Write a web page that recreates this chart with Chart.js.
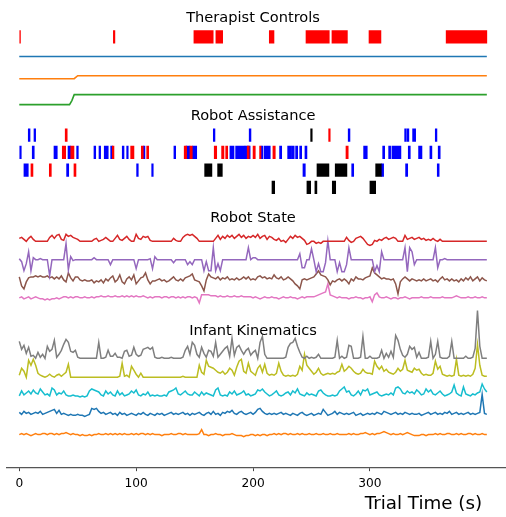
<!DOCTYPE html>
<html>
<head>
<meta charset="utf-8">
<title>Trial overview</title>
<script src="https://cdn.jsdelivr.net/npm/chart.js@4.4.1/dist/chart.umd.min.js"></script>
<style>
  html, body { margin: 0; padding: 0; background: #fff; }
  #wrap { width: 506px; height: 517px; }
</style>
</head>
<body>
<div id="wrap"><canvas id="trialChart" width="506" height="517"></canvas></div>
<script>
// ---------------- data ----------------
const xTicks = [0, 100, 200, 300];
const sectionTitles = ["Therapist Controls", "Robot Assistance", "Robot State", "Infant Kinematics"];
const axisTitle = "Trial Time (s)";

// therapist control on/off spans, seconds
const therapistEvents = [[0, 1], [80.5, 81.8], [149.4, 165.9], [168.2, 174], [213.9, 217.9],
  [245.3, 265.2], [267.5, 280.7], [299.2, 309.4], [365.2, 400]];

// therapist settings (step lines)
const therapistTimes = [0, 43, 45, 47, 50, 400];
const therapistBlue = [0, 0, 0, 0, 0, 0];
const therapistOrange = [0, 0, 0, 0, 3, 3];
const therapistGreen = [0, 0, 4, 10, 10, 10];

// robot assistance spans, one list per row and colour
const assist1Blue = [[7.7, 9.2], [12.6, 14], [166, 167.4], [196.7, 198.2], [281.4, 282.9],
  [329.7, 331], [331.6, 333.3], [336.5, 339.1], [355.9, 357.3]];
const assist1Red = [[39.3, 41], [264.7, 266]];
const assist1Black = [[249.3, 250.6]];

const assist2Blue = [[0, 1.7], [11.1, 12.8], [29.7, 32.5], [41.7, 44], [49.1, 50.5], [63.9, 65.4],
  [68.2, 69.6], [72.7, 76.1], [78.2, 79.9], [88.1, 89.6], [91.9, 93.2], [106.1, 107.5],
  [132.3, 133.8], [142.6, 146], [148, 151.8], [180.2, 183.7], [185.1, 193.1], [193.1, 197.5],
  [206.8, 208.5], [209.6, 214.7], [222.7, 224.5], [229.6, 233], [233.5, 235.2], [236.4, 238.2],
  [239.9, 241.6], [244.4, 246.1], [294.6, 297.7], [310.9, 312.6], [316, 317.7], [318.8, 326.5],
  [332.8, 334.5], [341.6, 344.5], [351.3, 353], [358.4, 360.1]];
const assist2Red = [[36.8, 39.7], [44, 46.8], [79.6, 81], [95.3, 98.1], [104.4, 106.1], [109, 110.7],
  [141.1, 143.2], [146, 148], [166.8, 168.9], [173.1, 175.1], [176.6, 178.3], [195, 196.7],
  [200, 201.9], [205.6, 206.8], [217, 219], [279.5, 281.4]];

const assist3Blue = [[4, 7.7], [40.5, 42.3], [100.4, 101.8], [113.3, 114.6], [242.7, 244.7],
  [284.4, 286.1], [309.7, 311.7], [330.5, 332.3], [357.6, 359.2]];
const assist3Red = [[10, 11.7], [25.7, 27.4], [46.8, 48.5]];
const assist3Black = [[158.6, 164.8], [169.7, 173.7], [254.7, 264.9], [270.3, 280.3], [304.9, 309.7]];

const assist4Black = [[216.2, 218.5], [246.1, 249.3], [252.9, 254.6], [267.8, 270.7], [300, 304.9]];

// sampled signals, one value every 2 s (0..400 s)
const sampleTimes = Array.from({ length: 201 }, (_, i) => i * 2);

const stateRed = [
  3, 4, 2, 0, 3, 5, 2, 0, 0, 0,
  0, 0, 0, 4, 6, 3, 6, 7, 2, 1,
  7, 5, 6, 4, 3, 2, 0, 0, 0, 0,
  0, 0, 2, 3, 0, 1, 2, 4, 2, 0,
  0, 3, 6, 2, 1, 3, 5, 2, 0, 0,
  7, 3, 2, 5, 4, 5, 1, 0, 0, 0,
  0, 0, 0, 0, 0, 0, 3, 1, 0, 0,
  4, 6, 7, 6, 7, 5, 3, 0, 0, 0,
  0, 0, 0, 0, 3, 6, 2, 5, 3, 6,
  4, 6, 3, 5, 7, 4, 6, 3, 5, 4,
  6, 4, 7, 3, 5, 6, 2, 5, 4, 2,
  1, 3, 0, 1, -1, 2, 5, 3, 6, 4,
  5, 3, 1, -3, -2, 0, 0, -2, -1, -2,
  0, 0, 0, 0, 0, 0, 0, 0, 0, 0,
  4, 1, -1, 0, 3, 4, 5, 3, 0, -3,
  -4, -3, 1, 0, 2, 1, 3, 4, 2, 3,
  4, 3, 0, 0, 0, 6, 2, 3, 4, 2,
  3, 4, 2, 3, 1, 2, 1, 3, 1, 0,
  2, 0, 0, 0, 0, 0, 0, 0, 0, 0,
  0, 0, 0, 0, 0, 0, 0, 0, 0, 0,
  0];
const statePurple = [
  1, -2, -11, -4, 8, -11, 2, 0, 0, 1,
  0, 0, 0, -16, 0, 0, 0, 0, 0, 0,
  16, -10, 3, -1, 0, 0, 0, 0, 0, 0,
  0, 0, 2, 0, 0, 0, 0, 0, 0, -5,
  0, 0, 0, 0, 0, 0, 0, 0, 0, 0,
  -9, 0, 0, 0, 0, 0, 1, -9, 3, 0,
  0, 0, 0, 0, 0, 0, -3, 0, 0, 0,
  0, 0, -5, -2, -5, 0, 0, 0, 0, -11,
  -2, -11, -11, 12, -11, -4, -11, 0, 0, 0,
  0, 0, 0, 0, 0, 0, 0, 0, 12, 0,
  2, 2, 0, 0, 0, 0, 0, 0, 0, 0,
  0, 0, 0, 0, 0, 0, 0, 0, 0, 0,
  6, -8, -8, 0, 0, 11, 0, -12, -4, -12,
  -12, -3, 19, 0, 0, 0, -12, -3, -12, -12,
  -5, 12, 0, 0, 0, 0, 0, 0, 0, 0,
  0, 0, -12, -6, -12, 8, 0, 0, 0, 0,
  0, 0, 0, 0, 0, 12, -12, 12, 8, -5,
  0, 0, 0, 0, 0, 0, 0, 0, 12, -8,
  0, 0, 1, 0, 0, 0, 0, 0, 0, 0,
  0, 0, 0, 0, 0, 0, 0, 0, 0, 0,
  0];
const stateBrown = [
  2, -7, -10, -3, 1, 2, 2, 3, 2, 3,
  2, 2, 3, 1, 2, 0, 2, 0, 3, -1,
  -3, 6, 1, -2, 2, 2, -1, -2, -1, -2,
  -2, -1, -4, -2, -3, -1, -4, 0, -2, 1,
  3, -3, -1, 4, -3, -5, 0, 2, -1, 4,
  -5, -2, 1, 2, 6, -1, -5, -2, -2, -1,
  0, -2, -1, -3, -2, 0, 2, -1, -2, 0,
  -2, 1, 2, 3, 5, -1, -2, -3, -7, -12,
  -1, 5, 2, 1, 0, 2, -1, 1, 0, 2,
  -1, 0, -1, 1, -1, 0, 2, 0, 2, -1,
  0, -1, 2, 3, 1, 2, 0, 1, 0, 4,
  1, 0, 2, -1, 0, 2, 0, -2, -5, -7,
  -10, -1, 0, -1, 0, 1, 2, 5, 8, 4,
  3, 2, -1, -6, -2, -3, -1, 0, -2, 0,
  -2, -5, 0, -2, 2, 0, 0, -1, 1, 2,
  3, 11, 6, 4, 2, 0, 1, 0, 0, -1,
  0, -5, -15, -3, 0, 2, 0, -2, 0, -1,
  -2, -1, -2, 0, -2, -1, 0, -2, -1, -3,
  0, 2, -1, 0, -2, 0, -2, -1, -3, 0,
  -2, 1, -1, 2, -2, 0, 2, -2, 1, -1,
  -2];
const statePink = [
  0, 1, -1, 0, 1, -1, 0, 1, 0, -1,
  -1, -2, -1, -2, -1, -1, 0, -1, 0, 1,
  1, 0, 1, 0, 1, 1, 0, 0, 1, 0,
  0, 1, 0, 1, 1, 2, 1, 1, 2, 1,
  1, 2, 1, 1, 2, 1, 2, 1, 2, 1,
  2, 1, 1, 2, 1, 0, 1, 0, 1, 1,
  1, 0, 1, 1, 0, 1, 1, 0, 1, 0,
  1, 0, 1, 1, 0, 1, 0, -5, 3, 3,
  3, 3, 2, 2, 2, 1, 2, 1, 1, 2,
  1, 1, 2, 1, 1, 2, 1, 1, 1, 1,
  0, 1, 0, -1, 0, 1, 0, 0, 1, 0,
  0, -1, 0, 1, 0, 0, 1, 0, 0, -1,
  0, 1, 0, 1, 1, 1, 1, 2, 3, 4,
  5, 6, 14, 3, 2, 1, 0, 1, 0, 0,
  0, -1, 0, 0, 1, 0, 0, -1, 0, 0,
  1, -4, 3, 5, 1, 0, 0, 1, 0, -1,
  0, 0, -1, 0, 0, 1, 0, -1, 0, 0,
  0, 0, 1, 0, 0, 0, 1, 0, 0, 0,
  0, 1, 0, 0, 0, 0, 1, 2, 1, 0,
  0, 0, 1, 0, 0, 1, 0, 0, 1, 0,
  0];

const kinGray = [
  17, 9, 13, 5, 11, 2, 3, 0, 6, 1,
  4, 0, 12, 7, 9, 18, 1, 4, 8, 14,
  19, 16, 7, 6, 8, 1, 0, 0, 0, 0,
  0, 0, 0, 0, 16, 0, 0, 1, 8, 2,
  2, 5, 1, 1, 0, 7, 8, 2, 3, 11,
  4, 2, 3, 9, 10, 11, 9, 11, 1, 0,
  0, 1, 0, 0, 0, 1, 0, 0, 0, 0,
  1, 8, 12, 4, 16, 13, 4, 1, 11, 5,
  1, 8, 7, 2, 16, 1, 4, 7, 10, 12,
  2, 20, 3, 11, 13, 8, 4, 8, 10, 3,
  6, 8, 0, 16, 22, 4, 0, 0, 0, 0,
  0, 0, 0, 0, 1, 11, 15, 16, 20, 12,
  6, 1, 0, 2, 0, 1, 0, 1, 4, 0,
  0, 0, 0, 0, 0, 1, 18, 0, 2, 0,
  1, 13, 12, 0, 0, 0, 1, 22, 0, 0,
  2, 0, 0, 0, 1, 8, 0, 5, 1, 7,
  1, 23, 18, 9, 3, 1, 4, 12, 9, 11,
  1, 6, 0, 0, 0, 1, 17, 0, 4, 17,
  1, 0, 0, 0, 2, 17, 0, 0, 0, 0,
  0, 2, 0, 0, 1, 10, 48, 12, 0, 0,
  0];
const kinOlive = [
  2, 9, 6, 0, 17, 12, 18, 12, 4, 2,
  1, 0, 1, 3, 1, 0, 2, 3, 1, 3,
  5, 13, 0, 0, 0, 0, 0, 0, 0, 0,
  0, 0, 0, 0, 0, 0, 0, 0, 0, 0,
  0, 0, 0, 1, 14, 1, 2, 0, 11, 7,
  3, 0, 4, 0, 0, 0, 0, 0, 0, 0,
  0, 0, 0, 0, 0, 0, 0, 0, 0, 0,
  1, 0, 0, 0, 0, 0, 0, 12, 5, 3,
  17, 11, 10, 9, 7, 5, 4, 6, 3, 5,
  9, 7, 2, 10, 16, 18, 6, 4, 14, 6,
  4, 2, 9, 12, 5, 13, 4, 2, 3, 2,
  4, 14, 6, 2, 1, 2, 1, 2, 1, 3,
  11, 7, 23, 12, 9, 6, 3, 5, 9, 4,
  2, 3, 4, 3, 4, 3, 5, 6, 13, 6,
  8, 11, 9, 6, 4, 3, 4, 8, 5, 4,
  4, 3, 16, 11, 8, 11, 6, 8, 5, 4,
  3, 5, 9, 6, 8, 17, 7, 6, 5, 9,
  7, 8, 4, 2, 3, 2, 2, 4, 16, 8,
  11, 3, 2, 1, 2, 1, 2, 18, 2, 1,
  2, 1, 2, 1, 3, 9, 33, 12, 2, 1,
  1];
const kinCyan = [
  1, 6, 2, 4, 6, 3, 7, 4, 3, 8,
  5, 2, 3, 1, 9, 7, 2, 4, 3, 6,
  2, 1, 1, 2, 1, 1, 0, 1, 0, 1,
  6, 8, 7, 6, 5, 2, 1, 6, 3, 5,
  2, 1, 6, 2, 4, 1, 2, 3, 6, 4,
  7, 2, 1, 3, 2, 5, 1, 2, 1, 2,
  1, 1, 2, 1, 5, 6, 7, 9, 3, 2,
  4, 6, 3, 2, 2, 5, 3, 1, 5, 2,
  4, 3, 2, 1, 7, 9, 2, 1, 2, 1,
  5, 3, 6, 2, 3, 4, 6, 2, 3, 1,
  2, 3, 7, 6, 8, 5, 3, 1, 2, 4,
  6, 2, 1, 2, 4, 5, 2, 6, 4, 8,
  3, 2, 1, 4, 2, 3, 2, 1, 6, 7,
  4, 2, 1, 1, 2, 1, 2, 6, 8, 10,
  5, 6, 2, 1, 3, 6, 2, 7, 6, 8,
  2, 3, 4, 5, 2, 1, 2, 3, 2, 4,
  2, 9, 10, 8, 4, 3, 6, 4, 5, 3,
  7, 5, 2, 3, 8, 5, 7, 3, 2, 4,
  6, 3, 1, 2, 3, 5, 12, 4, 2, 1,
  10, 3, 2, 1, 3, 2, 4, 5, 13, 8,
  5];
const kinBlue = [
  4, 2, 5, 3, 4, 2, 3, 4, 3, 5,
  2, 3, 4, 5, 6, 7, 3, 6, 2, 3,
  2, 1, 2, 1, 1, 2, 1, 1, 0, 1,
  2, 8, 7, 8, 5, 3, 4, 2, 3, 4,
  2, 3, 1, 4, 2, 3, 1, 2, 3, 2,
  1, 3, 2, 4, 2, 1, 3, 2, 1, 3,
  2, 3, 1, 2, 3, 4, 2, 3, 2, 3,
  4, 2, 3, 1, 3, 2, 3, 4, 2, 1,
  3, 4, 2, 5, 2, 3, 1, 4, 3, 5,
  4, 6, 3, 2, 4, 5, 3, 2, 3, 4,
  2, 4, 7, 8, 5, 3, 2, 3, 2, 3,
  2, 3, 4, 2, 3, 2, 1, 3, 2, 1,
  3, 4, 2, 1, 2, 3, 1, 2, 3, 2,
  7, 4, 1, 2, 3, 5, 2, 4, 3, 2,
  3, 2, 3, 4, 1, 2, 3, 1, 2, 3,
  2, 3, 2, 4, 3, 2, 5, 4, 3, 2,
  3, 4, 2, 3, 2, 4, 3, 2, 3, 2,
  2, 3, 1, 2, 3, 4, 2, 3, 4, 2,
  3, 2, 4, 3, 5, 2, 3, 4, 2, 3,
  2, 3, 4, 2, 3, 2, 3, 4, 22, 3,
  2];
const kinOrange = [
  0, 1, 0, 1, 0, -1, 0, 1, 0, 0,
  1, 1, 0, 1, 1, 0, 1, 0, 1, 1,
  2, 1, 0, 1, 0, 0, -1, 0, -1, -1,
  0, -1, 0, 0, 1, 0, 0, 1, 0, 1,
  0, 1, 0, 1, 0, 1, 0, 0, 1, 0,
  1, 0, 1, 1, 0, 1, 0, 1, 0, 0,
  0, -1, 0, 0, 0, 1, 0, 0, 1, 1,
  0, 1, 0, 0, 0, 0, 0, 1, 5, 0,
  0, -1, 0, 0, 1, 0, 0, -1, 0, 0,
  0, 1, 0, -1, -1, -1, -2, -1, -1, 0,
  0, -1, 0, -1, 0, 0, -1, 0, 0, 1,
  0, 1, 0, 1, 1, 0, 1, 0, 0, 1,
  0, 1, 0, 0, 1, 0, 0, 1, 0, 0,
  1, 0, 0, 1, 0, 0, 1, 0, 0, 0,
  0, 1, 0, 1, 0, 0, 1, 1, 2, 1,
  0, 1, 0, 1, 1, 2, 3, 2, 1, 0,
  1, 0, 0, 1, 0, 1, 2, 1, 0, -1,
  -1, -1, 0, 0, -1, 0, 0, 0, 1, 0,
  1, 0, 0, 1, 1, 0, 0, 1, 0, 1,
  0, 0, 1, 1, 0, 1, 0, 0, 1, 0,
  0];

// ---------------- layout (vertical lanes, y units above the axis) ----------------
const LANE = {
  therapistBar: 432, therapistBlue: 412.3, therapistOrange: 390, therapistGreen: 364,
  assist: [333.3, 316, 298.3, 281],
  stateRed: 226.7, statePurple: 208.3, stateBrown: 189, statePink: 170,
  kinGray: 109.3, kinOlive: 90.3, kinCyan: 70.5, kinBlue: 51, kinOrange: 32.7,
};
const TITLE_Y = [447.3, 348.3, 246.3, 133];
const BAR_H = 12.6;

const C = {
  red: "#ff0000", blue: "#0000ff", black: "#000000",
  tBlue: "#1f77b4", tOrange: "#ff7f0e", tGreen: "#2ca02c", tRed: "#d62728", tPurple: "#9467bd",
  tBrown: "#8c564b", tPink: "#e377c2", tGray: "#7f7f7f", tOlive: "#bcbd22", tCyan: "#17becf",
};

Chart.defaults.font.family = "'DejaVu Sans', sans-serif";

function spans(label, list, laneY, color) {
  return {
    type: "bar",
    label,
    indexAxis: "y",
    data: list.map(([s, e]) => ({ x: [s, e], y: laneY })),
    backgroundColor: color,
    borderWidth: 0,
    barThickness: BAR_H,
    grouped: false,
  };
}

function trace(label, times, values, laneY, color, width = 1.5) {
  return {
    type: "line",
    label,
    data: times.map((t, i) => ({ x: t, y: laneY + values[i] })),
    borderColor: color,
    borderWidth: width,
    pointRadius: 0,
    tension: 0,
    fill: false,
  };
}

const datasets = [
  spans("therapist", therapistEvents, LANE.therapistBar, C.red),
  trace("setting 1", therapistTimes, therapistBlue, LANE.therapistBlue, C.tBlue, 1.6),
  trace("setting 2", therapistTimes, therapistOrange, LANE.therapistOrange, C.tOrange, 1.6),
  trace("setting 3", therapistTimes, therapistGreen, LANE.therapistGreen, C.tGreen, 1.6),

  spans("a1 red", assist1Red, LANE.assist[0], C.red),
  spans("a1 black", assist1Black, LANE.assist[0], C.black),
  spans("a1 blue", assist1Blue, LANE.assist[0], C.blue),
  spans("a2 red", assist2Red, LANE.assist[1], C.red),
  spans("a2 blue", assist2Blue, LANE.assist[1], C.blue),
  spans("a3 red", assist3Red, LANE.assist[2], C.red),
  spans("a3 black", assist3Black, LANE.assist[2], C.black),
  spans("a3 blue", assist3Blue, LANE.assist[2], C.blue),
  spans("a4 black", assist4Black, LANE.assist[3], C.black),

  trace("state red", sampleTimes, stateRed, LANE.stateRed, C.tRed),
  trace("state purple", sampleTimes, statePurple, LANE.statePurple, C.tPurple),
  trace("state brown", sampleTimes, stateBrown, LANE.stateBrown, C.tBrown),
  trace("state pink", sampleTimes, statePink, LANE.statePink, C.tPink),

  trace("kin gray", sampleTimes, kinGray, LANE.kinGray, C.tGray),
  trace("kin olive", sampleTimes, kinOlive, LANE.kinOlive, C.tOlive),
  trace("kin cyan", sampleTimes, kinCyan, LANE.kinCyan, C.tCyan),
  trace("kin blue", sampleTimes, kinBlue, LANE.kinBlue, C.tBlue),
  trace("kin orange", sampleTimes, kinOrange, LANE.kinOrange, C.tOrange),
];

// section headings and the x-axis caption
const laneTitles = {
  id: "laneTitles",
  afterDraw(chart) {
    const { ctx, scales: { x, y } } = chart;
    ctx.save();
    ctx.fillStyle = "#000";
    ctx.textBaseline = "alphabetic";
    ctx.textAlign = "center";
    ctx.font = "14.6px 'DejaVu Sans'";
    sectionTitles.forEach((name, i) => {
      ctx.fillText(name, x.getPixelForValue(200), y.getPixelForValue(TITLE_Y[i]));
    });
    ctx.textAlign = "right";
    ctx.font = "18.3px 'DejaVu Sans'";
    ctx.fillText(axisTitle, x.getPixelForValue(396), chart.height - 8);
    ctx.restore();
  },
};

new Chart(document.getElementById("trialChart"), {
  type: "line",
  data: { datasets },
  options: {
    responsive: false,
    animation: false,
    devicePixelRatio: 1,
    layout: { padding: { left: 7, right: 0, top: 0, bottom: 19.6 } },
    plugins: { legend: { display: false }, tooltip: { enabled: false } },
    scales: {
      x: {
        type: "linear",
        min: -10.5,
        max: 416.4,
        offset: false,
        afterBuildTicks: (scale) => {
          scale.ticks = xTicks.map((v) => ({ value: v }));
        },
        ticks: { color: "#000", font: { size: 12.2 }, padding: 5.8, maxRotation: 0, autoSkip: false },
        grid: { drawOnChartArea: false, drawTicks: true, tickLength: 4, tickColor: "#444", tickWidth: 1 },
        border: { display: true, color: "#555", width: 1.2 },
      },
      y: { type: "linear", min: 0, max: 469, display: false, offset: false },
    },
  },
  plugins: [laneTitles],
});
</script>
</body>
</html>
